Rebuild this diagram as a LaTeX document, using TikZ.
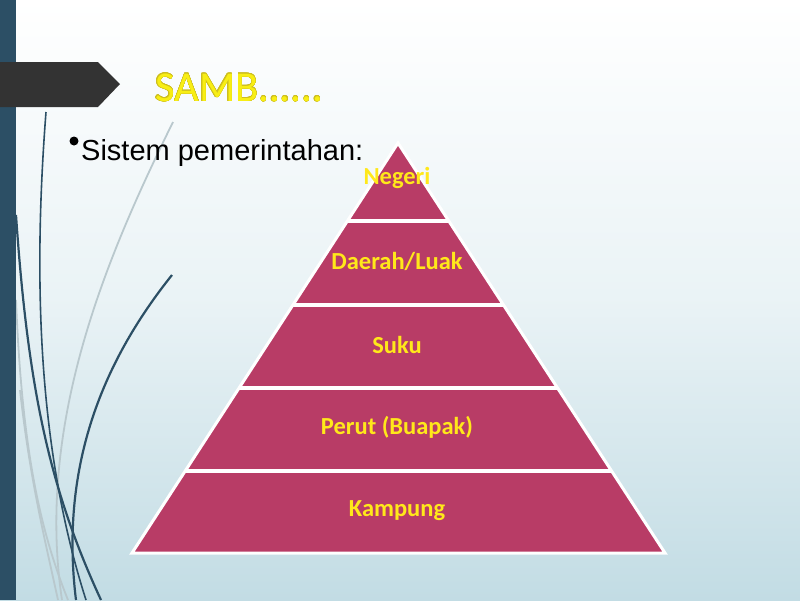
\documentclass[tikz,border=0pt]{standalone}
\usepackage{fontspec}
\usepackage{contour}
\contourlength{0.3pt}
\contournumber{16}
\setmainfont{Liberation Sans}
\newfontfamily\calib{Carlito}
\definecolor{barblue}{RGB}{44,79,101}
\definecolor{bannergray}{RGB}{51,51,51}
\definecolor{titleyellow}{RGB}{248,238,20}
\definecolor{titleedge}{RGB}{205,190,30}
\definecolor{pyrfill}{RGB}{184,60,102}
\definecolor{lblyellow}{RGB}{255,232,26}
\definecolor{bgbottom}{RGB}{194,220,228}
\definecolor{swgray}{RGB}{185,200,205}
\tikzset{
  darkswoosh/.style={draw=barblue, line width=2.2pt},
  lightswoosh/.style={draw=swgray, line width=1.8pt},
  tierlabel/.style={text=lblyellow, font=\calib\bfseries\fontsize{24.5}{28}\selectfont, inner sep=0pt},
  gapline/.style={draw=white, line width=4pt},
}
\begin{document}
\begin{tikzpicture}[x=1pt,y=-1pt]
\useasboundingbox (0,0) rectangle (800,600);
% background
\shade[top color=white, bottom color=bgbottom, middle color={bgbottom!35!white}] (0,0) rectangle (800,600);
% swooshes
\draw[lightswoosh] (173,122) .. controls (110,250) and (35,420) .. (62,600);
\draw[lightswoosh] (16,300) .. controls (22,450) and (40,530) .. (68,600);
\draw[lightswoosh] (20,390) .. controls (30,480) and (45,540) .. (58,600);
\draw[darkswoosh, line width=1.6pt] (46,112) .. controls (33,280) and (38,450) .. (86,600);
\draw[darkswoosh] (16,215) .. controls (28,390) and (50,490) .. (101,600);
\draw[darkswoosh] (172,275) .. controls (100,365) and (60,470) .. (76,600);
% left bar
\fill[barblue] (0,0) rectangle (16,600);
% banner
\fill[bannergray] (0,62) -- (98,62) -- (120,84) -- (98,107) -- (0,107) -- cycle;
% title
\node[anchor=base west, inner sep=0pt, text=titleyellow, font=\calib\fontsize{42.5}{48}\selectfont] (title) at (155,101) {\contour{titleedge}{SAMB......}};
% bullet
\fill[black] (74,141) circle (4.5);
\node[anchor=base west, inner sep=0pt, font=\fontsize{29}{33}\selectfont] (bullet) at (81,160) {Sistem pemerintahan:};
% pyramid
\coordinate (apex) at (398,143);
\coordinate (bl) at (132,553);
\coordinate (br) at (665,553);
\draw[fill=pyrfill, draw=white, line width=3pt, line join=miter] (apex) -- (br) -- (bl) -- cycle;
\draw[gapline] (347.4,221) -- (448.8,221);
\draw[gapline] (292.9,305) -- (503.5,305);
\draw[gapline] (239.0,388) -- (557.5,388);
\draw[gapline] (185.2,471) -- (611.6,471);
% labels
\node[tierlabel] (negeri) at (397,178) {Negeri};
\node[tierlabel] (daerah) at (397,261) {Daerah/Luak};
\node[tierlabel] (suku) at (397,345) {Suku};
\node[tierlabel] (perut) at (397,427) {Perut (Buapak)};
\node[tierlabel] (kampung) at (397,511) {Kampung};
\end{tikzpicture}
\end{document}
